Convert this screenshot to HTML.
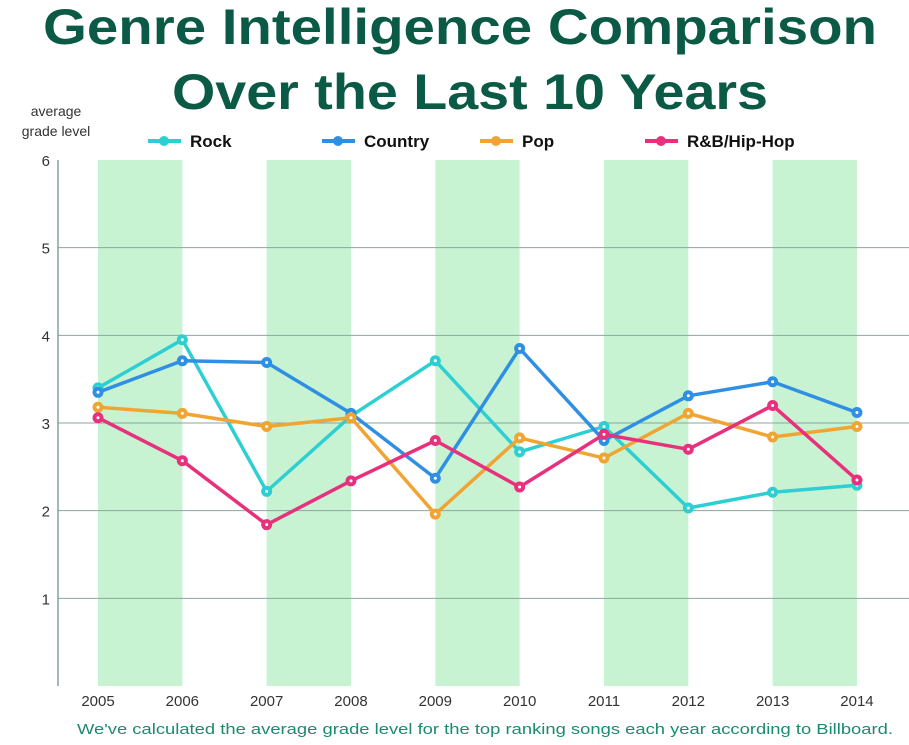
<!DOCTYPE html>
<html><head><meta charset="utf-8"><style>
body{margin:0;background:#fff;font-family:"Liberation Sans",sans-serif;}
svg{display:block}
</style></head><body>
<svg width="909" height="745" viewBox="0 0 909 745">
<text x="460" y="44" text-anchor="middle" font-size="50" font-weight="bold" fill="#0b5a45" textLength="834" lengthAdjust="spacingAndGlyphs">Genre Intelligence Comparison</text>
<text x="470" y="109" text-anchor="middle" font-size="50" font-weight="bold" fill="#0b5a45" textLength="596" lengthAdjust="spacingAndGlyphs">Over the Last 10 Years</text>
<text x="56" y="116" text-anchor="middle" font-size="14" fill="#333">average</text>
<text x="56" y="136" text-anchor="middle" font-size="14" fill="#333">grade level</text>
<g id="bands"></g><g id="grid"></g><g id="legend"></g><g id="series"></g>
<line x1="58" y1="160" x2="58" y2="686" stroke="#6a8a88" stroke-width="1.2"/>
<text x="485" y="734" text-anchor="middle" font-size="15" fill="#1b8a70" textLength="816" lengthAdjust="spacingAndGlyphs">We've calculated the average grade level for the top ranking songs each year according to Billboard.</text>
</svg>
<script>
const years=["2005","2006","2007","2008","2009","2010","2011","2012","2013","2014"];
const yTicks=[1,2,3,4,5,6];
const rock=[3.40,3.95,2.22,3.08,3.71,2.67,2.96,2.03,2.21,2.29];
const country=[3.35,3.71,3.69,3.11,2.37,3.85,2.80,3.31,3.47,3.12];
const pop=[3.18,3.11,2.96,3.06,1.96,2.83,2.60,3.11,2.84,2.96];
const rnb=[3.06,2.57,1.84,2.34,2.80,2.27,2.87,2.70,3.20,2.35];
const seriesNames=["Rock","Country","Pop","R&B/Hip-Hop"];
const NS="http://www.w3.org/2000/svg";
const X=i=>98+i*84.33, Y=v=>686-v*87.67;
function mk(t,a,p){const e=document.createElementNS(NS,t);for(const k in a)e.setAttribute(k,a[k]);p.appendChild(e);return e;}
const bands=document.getElementById('bands'),grid=document.getElementById('grid'),lg=document.getElementById('legend'),sg=document.getElementById('series');
for(let i=0;i<years.length;i+=2){
 const r=mk('rect',{x:X(i),y:Y(6),width:X(i+1)-X(i),height:Y(0)-Y(6),fill:'#c8f3d2'},bands);
 
 
}
yTicks.forEach(v=>{
 if(v<6){const l=mk('line',{x1:58,x2:909,y1:Y(v),y2:Y(v),stroke:'#8aa6a0','stroke-width':1},grid);
 
 }
 const t=mk('text',{x:50,y:Y(v)+6,'text-anchor':'end','font-size':15,fill:'#333'},grid);t.textContent=v;
 
 
});
years.forEach((y,i)=>{const t=mk('text',{x:X(i),y:706,'text-anchor':'middle','font-size':15,fill:'#333'},grid);t.textContent=y;
 
 });
const all=[rock,country,pop,rnb],cols=["#2ecfd3","#2f8fe3","#f0a533","#e8317c"],lx=[148,322,480,645];
all.forEach((d,s)=>{
 const g=mk('g',{},lg);
 
 
 mk('line',{x1:lx[s],x2:lx[s]+33,y1:141,y2:141,stroke:cols[s],'stroke-width':4},g);
 mk('circle',{cx:lx[s]+16,cy:141,r:5,fill:cols[s]},g);
 const t=mk('text',{x:lx[s]+42,y:147,'font-size':17,'font-weight':'bold',fill:'#111'},g);t.textContent=seriesNames[s];
 const sgp=mk('g',{},sg);
 
 
 const pl=mk('polyline',{points:d.map((v,i)=>X(i)+','+Y(v)).join(' '),fill:'none',stroke:cols[s],'stroke-width':3.5,'stroke-linejoin':'round'},sgp);
 
 
 d.forEach((v,i)=>{const c=mk('circle',{cx:X(i),cy:Y(v),r:5.5,fill:cols[s]},sgp);
  
  
  mk('circle',{cx:X(i),cy:Y(v),r:1.5,fill:'#fff'},sgp);});
});
</script>
</body></html>
